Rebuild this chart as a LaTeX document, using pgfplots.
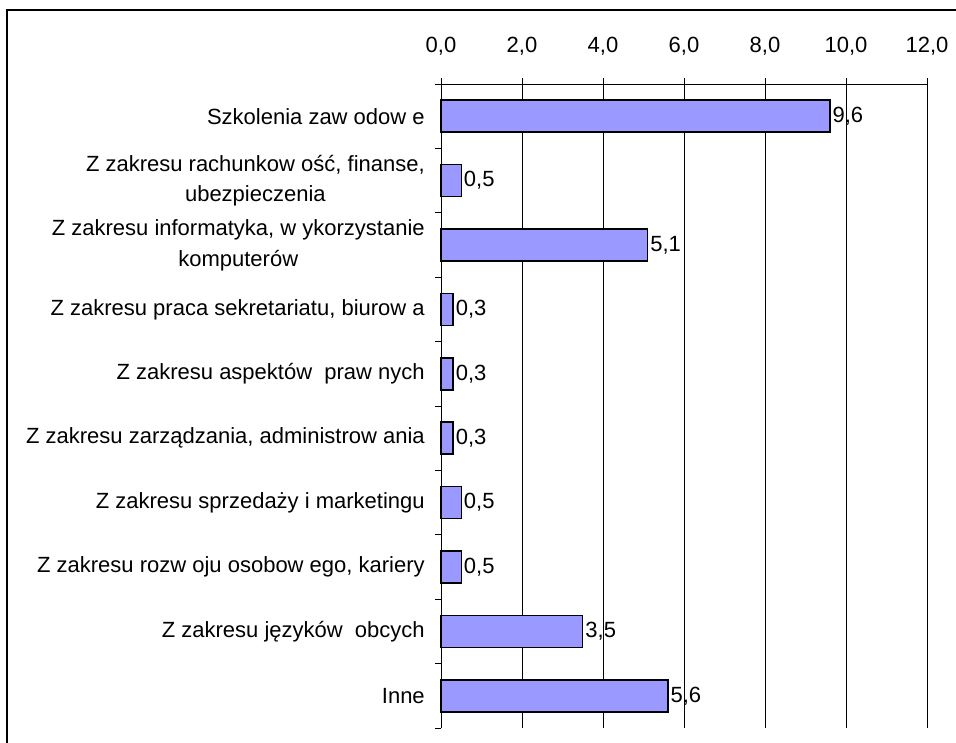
\documentclass[border=0pt]{standalone}
\usepackage{fontspec}
\setmainfont{Liberation Sans}
\usepackage{pgfplots}
\pgfplotsset{compat=1.18}
\definecolor{barfill}{HTML}{9999FF}

\begin{document}
\begin{tikzpicture}[x=1pt,y=1pt]
\path[use as bounding box] (-330.75,-10.5) rectangle (386.25,546);
\draw[line width=1.3pt] (-325.5,-14) -- (-325.5,538.5) -- (390,538.5);
\begin{axis}[
    at={(0,0)}, anchor=south west,
    scale only axis, width=364.5pt, height=483pt,
    xbar, bar width=24pt,
    xmin=0, xmax=12, ymin=-0.5, ymax=9.5, y dir=reverse,
    axis x line*=top, axis y line*=left,
    axis line style={line width=0.6pt},
    xtick={0,2,...,12},
    xmajorgrids, grid style={black, line width=0.6pt},
    tick align=outside, major tick length=4.5pt, minor tick length=4.5pt,
    tick style={black, line width=0.6pt},
    ytick={0,...,9},
    ytick style={/pgfplots/major tick length=0pt},
    minor ytick={-0.5,0.5,...,9.5},
    yticklabels={
        {Szkolenia zaw odow e},
        {Z zakresu rachunkow ość, finanse,\\[4pt]ubezpieczenia},
        {Z zakresu informatyka, w ykorzystanie\\[4pt]komputerów},
        {Z zakresu praca sekretariatu, biurow a},
        {Z zakresu aspektów \ praw nych},
        {Z zakresu zarządzania, administrow ania},
        {Z zakresu sprzedaży i marketingu},
        {Z zakresu rozw oju osobow ego, kariery},
        {Z zakresu języków \ obcych},
        {Inne}},
    yticklabel style={align=center, inner sep=0pt, xshift=-7.5pt,
        font=\fontsize{16.5}{19}\selectfont},
    xticklabel style={font=\fontsize{16.5}{19}\selectfont, inner sep=0pt, yshift=16.5pt,
        /pgf/number format/.cd, fixed, fixed zerofill, precision=1, use comma,
        assume math mode=true},
    nodes near coords, nodes near coords align=horizontal,
    every node near coord/.append style={font=\fontsize{16.5}{19}\selectfont,
        anchor=west, inner sep=1.5pt,
        /pgf/number format/.cd, fixed, fixed zerofill, precision=1, use comma,
        assume math mode=true},
    clip=false,
]
\addplot[fill=barfill, draw=black, line width=1.1pt] coordinates {
    (9.6,0) (0.5,1) (5.1,2) (0.3,3) (0.3,4)
    (0.3,5) (0.5,6) (0.5,7) (3.5,8) (5.6,9)
};
\end{axis}
\end{tikzpicture}
\end{document}
